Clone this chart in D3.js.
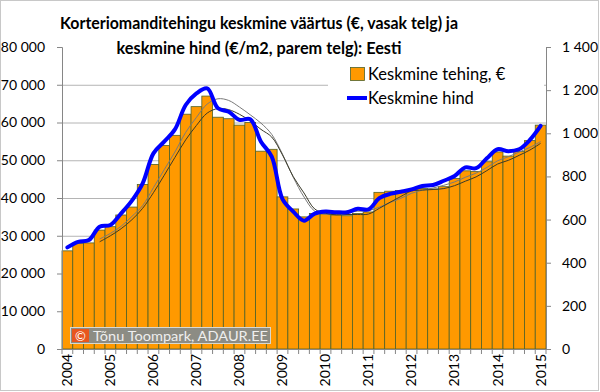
<!DOCTYPE html>
<html><head><meta charset="utf-8">
<script src="https://cdn.jsdelivr.net/npm/d3@7"></script>
<style>
html,body{margin:0;padding:0;background:#fff;}
svg{display:block;font-family:Lato,"Open Sans",sans-serif;}
</style></head>
<body><svg id="c" width="600" height="392"></svg>
<script>
const quarters = [];
const yearsList = ["2004","2005","2006","2007","2008","2009","2010","2011","2012","2013","2014","2015"];
yearsList.forEach(y => ["Q1","Q2","Q3","Q4"].forEach(q => quarters.push(y + q)));
quarters.splice(45);
const yearLabels = ["2004","2005","2006","2007","2008","2009","2010","2011","2012","2013","2014","2015"];
const avgDeal = [26000,28000,28100,31500,32400,35500,37600,43600,48900,53900,56600,62200,
  64200,67000,61400,61000,59300,60000,52400,52900,40300,37100,35000,35900,35800,35500,35300,
  35900,36300,41500,41800,42000,42100,42500,42400,43000,45200,47200,47000,49600,52200,51100,
  52300,55200,59300];
const avgPrice = [471,497,505,567,575,629,688,768,907,961,1018,1131,1185,1208,1116,1100,1062,
  1065,961,892,695,637,595,628,637,634,634,650,647,699,719,729,740,756,760,780,802,842,838,
  884,926,917,926,969,1034];
const leftTicks = [0,10000,20000,30000,40000,50000,60000,70000,80000];
const rightTicks = [0,200,400,600,800,1000,1200,1400];
const titleLines = ["Korteriomanditehingu keskmine väärtus (€, vasak telg) ja","keskmine hind (€/m2, parem telg): Eesti"];
const legendLabels = ["Keskmine tehing, €","Keskmine hind"];
const copyright = "Tõnu Toompark, ADAUR.EE";

const svg = d3.select("#c");
const L = 62, R = 546, T = 47, B = 349;
const x = d3.scaleBand().domain(quarters).range([L, R]).padding(0);
const yL = d3.scaleLinear().domain([0, 80000]).range([B, T]);
const yR = d3.scaleLinear().domain([0, 1400]).range([B, T]);
const fmt = v => d3.format(",")(v).replace(/,/g, " ");

// outer border
svg.append("rect").attr("x",0.5).attr("y",0.5).attr("width",598).attr("height",390)
  .attr("fill","#fff").attr("stroke","#c8c8c8");

// gridlines
svg.append("g").selectAll("line").data(leftTicks.filter(d => d > 0 && d < 80000)).join("line")
  .attr("x1", L).attr("x2", R).attr("y1", d => yL(d) + 0.5).attr("y2", d => yL(d) + 0.5)
  .attr("stroke", "#b4b4b4").attr("stroke-width", 1);

// bars
svg.append("g").selectAll("rect").data(avgDeal).join("rect")
  .attr("x", (d, i) => x(quarters[i]))
  .attr("width", x.bandwidth())
  .attr("y", d => yL(d))
  .attr("height", d => B - yL(d))
  .attr("fill", "#FF9900").attr("stroke", "#4F6228").attr("stroke-width", 0.8);

// moving-average trendlines (4 periods)
function ma(arr) {
  const out = [];
  for (let i = 3; i < arr.length; i++) out.push([i, d3.mean(arr.slice(i - 3, i + 1))]);
  return out;
}
const cx = i => x(quarters[i]) + x.bandwidth() / 2;
svg.append("path").datum(ma(avgPrice))
  .attr("d", d3.line().x(d => cx(d[0])).y(d => yR(d[1])).curve(d3.curveCatmullRom))
  .attr("fill", "none").attr("stroke", "#7a7a7a").attr("stroke-width", 1);
svg.append("path").datum(ma(avgDeal))
  .attr("d", d3.line().x(d => cx(d[0])).y(d => yL(d[1])).curve(d3.curveCatmullRom))
  .attr("fill", "none").attr("stroke", "#3a3a2a").attr("stroke-width", 1);

// price line
svg.append("path").datum(avgPrice)
  .attr("d", d3.line().x((d, i) => cx(i)).y(d => yR(d)).curve(d3.curveCatmullRom.alpha(0.5)))
  .attr("fill", "none").attr("stroke", "#0000FF").attr("stroke-width", 4)
  .attr("stroke-linejoin", "round").attr("stroke-linecap", "round");

// axes
const axL = svg.append("g").attr("transform", `translate(${L},0)`)
  .call(d3.axisLeft(yL).tickValues(leftTicks).tickFormat(fmt).tickSize(5).tickPadding(12));
const axR = svg.append("g").attr("transform", `translate(${R},0)`)
  .call(d3.axisRight(yR).tickValues(rightTicks).tickFormat(fmt).tickSize(5).tickPadding(11));
[axL, axR].forEach(a => {
  a.select(".domain").attr("stroke", "#868686");
  a.selectAll(".tick line").attr("stroke", "#868686");
  a.selectAll("text").attr("font-size", 14).attr("fill", "#000").attr("font-family", "Lato");
});
// bottom axis
svg.append("line").attr("x1", L).attr("x2", R).attr("y1", B + 0.5).attr("y2", B + 0.5).attr("stroke", "#868686");
const bounds = d3.range(quarters.length + 1).map(i => L + i * x.bandwidth());
svg.append("g").selectAll("line").data(bounds).join("line")
  .attr("x1", d => d).attr("x2", d => d).attr("y1", B).attr("y2", B + 5).attr("stroke", "#868686");
const axB = svg.append("g").attr("transform", `translate(0,${B})`)
  .call(d3.axisBottom(x).tickValues(yearLabels.map(y => y + "Q1")).tickFormat((d, i) => yearLabels[i]).tickSize(0));
axB.select(".domain").remove();
axB.selectAll("text").attr("font-size", 14).attr("fill", "#000").attr("font-family", "Lato")
  .attr("transform", "rotate(-90)").attr("text-anchor", "end").attr("x", -5).attr("y", 0).attr("dy", "0.35em");

// copyright badge
const cb = svg.append("g");
cb.append("rect").attr("x", 70.5).attr("y", 327.5).attr("width", 200).attr("height", 16)
  .attr("fill", "#8c8c84").attr("stroke", "#d8d8d0").attr("stroke-width", 1);
cb.append("rect").attr("x", 72).attr("y", 329).attr("width", 17).attr("height", 13).attr("fill", "#e8561e");
cb.append("text").attr("x", 80.5).attr("y", 340.5).attr("text-anchor", "middle").attr("font-size", 13)
  .attr("fill", "#fff").text("©");
cb.append("text").attr("x", 93).attr("y", 340.5).attr("font-size", 14).attr("fill", "#efefef")
  .attr("textLength", 175).attr("lengthAdjust", "spacingAndGlyphs").text(copyright);

// legend
const lg = svg.append("g");
lg.append("rect").attr("x", 328).attr("y", 58).attr("width", 216).attr("height", 60).attr("fill", "#fff");
lg.append("rect").attr("x", 350.5).attr("y", 67.5).attr("width", 14).attr("height", 13)
  .attr("fill", "#FF9900").attr("stroke", "#4F6228").attr("stroke-width", 0.8);
lg.append("line").attr("x1", 347).attr("x2", 367).attr("y1", 98).attr("y2", 98)
  .attr("stroke", "#0000FF").attr("stroke-width", 4);
lg.selectAll("text").data(legendLabels).join("text")
  .attr("x", 368).attr("y", (d, i) => 80 + i * 24).attr("font-size", 16.5).attr("fill", "#000")
  .text(d => d);

// title
svg.append("g").selectAll("text").data(titleLines).join("text")
  .attr("x", 259).attr("y", (d, i) => 29 + i * 25).attr("text-anchor", "middle")
  .attr("font-size", 17.5).attr("font-weight", "bold").attr("fill", "#000")
  .attr("textLength", (d, i) => i === 0 ? 398 : 285).attr("lengthAdjust", "spacingAndGlyphs")
  .text(d => d);
</script></body></html>
